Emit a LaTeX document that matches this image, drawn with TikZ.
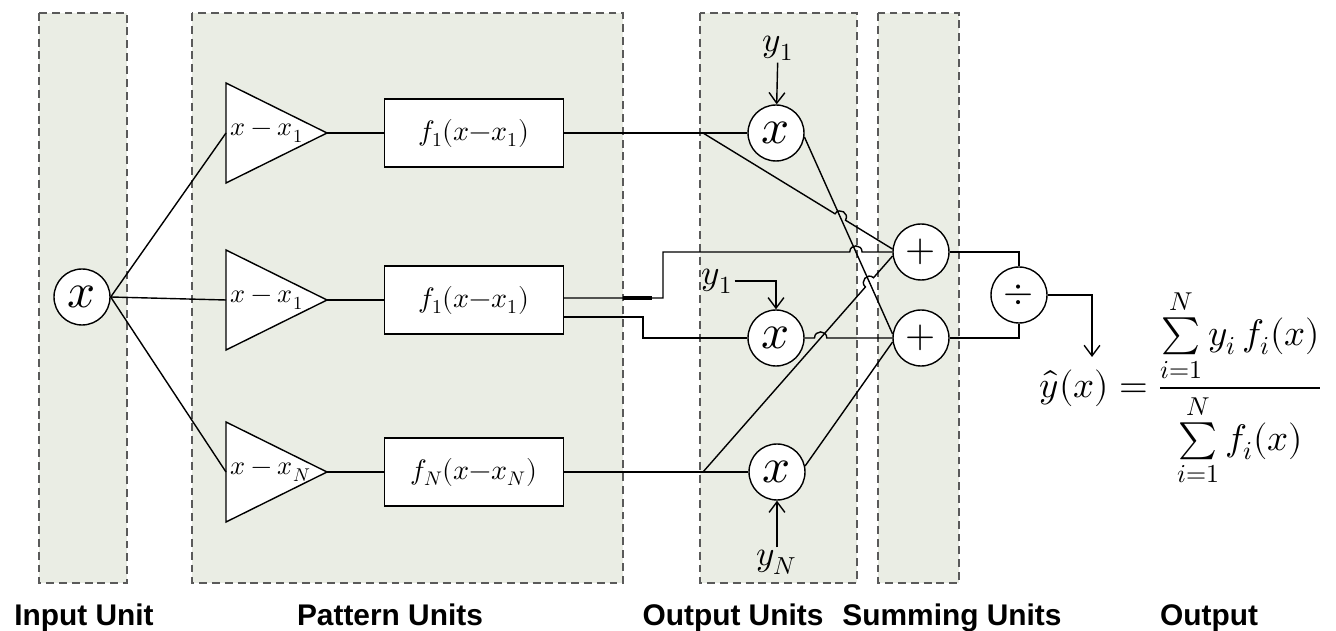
\documentclass[tikz,border=0pt]{standalone}
\usepackage{amsmath}
\usepackage{fontspec}
\usepackage{unicode-math}
\setmathfont{Latin Modern Math}
\setsansfont{Liberation Sans}
\usetikzlibrary{arrows.meta,calc}
\definecolor{panel}{RGB}{234,237,228}
\definecolor{rim}{RGB}{90,90,90}
\begin{document}
\begin{tikzpicture}[>={Straight Barb[length=6pt,width=9pt]},x=.02cm,y=-.02cm,line width=.8pt,
    unit/.style={draw=rim,fill=panel,line width=1.1pt,dash pattern=on 4.5pt off 2.8pt},
    cir/.style={circle,draw,fill=white,minimum size=1.12cm,inner sep=0pt},
    big/.style={font=\fontsize{28}{30}\selectfont},
    op/.style={font=\fontsize{22}{24}\selectfont},
    lab/.style={font=\fontsize{20}{22}\selectfont,inner sep=1pt},
    blk/.style={rectangle,draw,fill=white,minimum width=3.58cm,minimum height=1.36cm,font=\fontsize{16}{18}\selectfont},
    unitlab/.style={font=\sffamily\bfseries\fontsize{17}{20}\selectfont,anchor=base}]
    \useasboundingbox (0,0) rectangle (1336,631);
    % cac khung don vi
    \draw[unit] (39,13) rectangle (127,583);
    \draw[unit] (192,13) rectangle (623,583);
    \draw[unit] (700,13) rectangle (857,583);
    \draw[unit] (878,13) rectangle (959,583);
    \node[cir,big] (in) at (82,297) {$x$};
    \foreach \r/\yy/\s in {1/133/1,2/300/1,N/472/N}{
        \coordinate (dw\r) at (226,\yy);
        \coordinate (de\r) at (327,\yy);
        \draw[fill=white] ($(dw\r)+(0,-50)$) -- (de\r) -- ($(dw\r)+(0,50)$) -- cycle;
        \node[font=\fontsize{15}{17}\selectfont,anchor=west,inner sep=0pt] (d\r) at ($(dw\r)+(4,0)$) {$x-x_{\s}$};
        \node[blk] (f\r) at (474,\yy) {$f_{\s}(x{-}x_{\s})$};
        \draw (in.east) -- (dw\r);
        \draw (de\r) -- (f\r.west);
    }
    \node[cir,big] (m1) at (776,133) {$x$};
    \node[cir,big] (m2) at (776,338) {$x$};
    \node[cir,big] (mN) at (777,472) {$x$};
    \node[cir,op] (s1) at (921,252) {$+$};
    \node[cir,op] (s2) at (921,338) {$+$};
    \node[cir,op] (dv) at (1019,295) {$\div$};
    \node[lab] (y1a) at (778,48) {$y_1$};
    \node[lab] (y1b) at (717,281) {$y_1$};
    \node[lab] (yN) at (777,562) {$y_N$};
    \draw[->] (y1a) -- (m1);
    \draw[->] (y1b.east) -| (m2.north);
    \draw[->] (yN) -- (mN);
    % duong chinh
    \coordinate (b1) at (703,133);
    \coordinate (bN) at (703,472);
    \coordinate (j1) at (663,252);
    \coordinate (j2) at (643,338);
    \draw (f1.east) -- (m1.west);
    \draw (fN.east) -- (mN.west);
    \draw ($(f2.east)+(0,17)$) -| (j2) -- (m2.west);
    \draw[line width=2pt] (623,298) -- (652,298);
    \draw (m1.-8) -- (s2.172);
    \draw (mN.12) -- (s2.188);
    % cac diem giao (nhay qua)
    \coordinate (g1) at (m1.-8);
    \coordinate (g2) at (s2.172);
    \coordinate (e1) at (s1.174);
    \coordinate (e2) at (s1.west);
    \coordinate (e3) at (s1.188);
    \coordinate (c1) at (m2.east);
    \coordinate (c2) at (s2.west);
    \coordinate (h1) at (intersection of b1--e1 and g1--g2);
    \coordinate (h2) at (intersection of j1--e2 and g1--g2);
    \coordinate (h3) at (intersection of bN--e3 and g1--g2);
    \coordinate (h4) at (intersection of c1--c2 and bN--e3);
    \draw (b1) -- ($(h1)!3.5pt!(b1)$) to[bend left=90,looseness=1.7] ($(h1)!3.5pt!(e1)$) -- (e1);
    \draw ($(f2.east)+(0,-2)$) -| (j1) -- ($(h2)!3.5pt!(j1)$) to[bend left=90,looseness=1.7] ($(h2)!3.5pt!(e2)$) -- (e2);
    \draw (bN) -- ($(h3)!3.5pt!(bN)$) to[bend left=90,looseness=1.7] ($(h3)!3.5pt!(e3)$) -- (e3);
    \draw (c1) -- ($(h4)!3.5pt!(c1)$) to[bend left=90,looseness=1.7] ($(h4)!3.5pt!(c2)$) -- (c2);
    % dau ra
    \coordinate (yhat) at (1092,357);
    \draw (s1.east) -| (dv.north);
    \draw (s2.east) -| (dv.south);
    \draw[->] (dv.east) -| (yhat);
    \node[font=\fontsize{21}{24}\selectfont] (res) at (1181,388)
        {$\hat{y}(x)=\dfrac{\sum\limits_{i=1}^{N} y_i\,f_i(x)}{\sum\limits_{i=1}^{N} f_i(x)}$};
    \node[unitlab] (l1) at (84,625) {Input Unit};
    \node[unitlab] (l2) at (390,625) {Pattern Units};
    \node[unitlab] (l3) at (733,625) {Output Units};
    \node[unitlab] (l4) at (952,625) {Summing Units};
    \node[unitlab] (l5) at (1209,625) {Output};
\end{tikzpicture}
\end{document}
